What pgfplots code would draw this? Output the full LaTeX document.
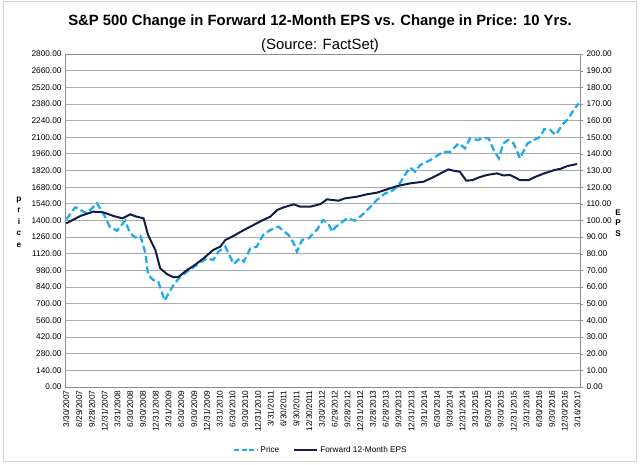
\documentclass[border=0pt]{standalone}
\usepackage{fontspec}
\setmainfont{Liberation Sans}
\usepackage{pgfplots}
\pgfplotsset{compat=1.18}
\definecolor{pricec}{RGB}{30,170,235}
\definecolor{epsc}{RGB}{18,28,72}
\definecolor{gridc}{RGB}{170,170,170}
\definecolor{axisc}{RGB}{140,140,140}
\definecolor{framec}{RGB}{210,210,210}
\newcommand{\tickfont}{\fontsize{8.3}{10}\selectfont}
\pgfplotsset{
  common/.style={
    at={(65bp,78bp)}, anchor=south west,
    scale only axis, width=515bp, height=333bp,
    xmin=-0.1, xmax=40.2,
    axis line style={axisc},
    yticklabel style={font=\tickfont, /pgf/number format/.cd, fixed, fixed zerofill,
      precision=2, 1000 sep={}, assume math mode=true},
  }
}
\begin{document}
\begin{tikzpicture}
\useasboundingbox (0bp,0bp) rectangle (640bp,465bp);
\draw[framec, line width=1bp] (3bp,3bp) rectangle (636bp,463bp);
\node[font=\fontsize{14.9}{18}\selectfont\bfseries] at (320bp,443bp)
  {S\&P 500 Change in Forward 12-Month EPS vs. Change in Price: 10 Yrs.};
\node[font=\fontsize{14.9}{18}\selectfont] at (320bp,419bp) {(Source: FactSet)};
\node[font=\fontsize{8.3}{11.5}\selectfont\bfseries, align=center] at (19bp,243bp) {p\\r\\i\\c\\e};
\node[font=\fontsize{8.3}{10.5}\selectfont\bfseries, align=center] at (618bp,242bp) {E\\P\\S};

% price, left axis
\begin{axis}[
    common,
    ymin=0, ymax=2800, ytick distance=140,
    ymajorgrids, grid style={gridc, line width=0.8bp},
    major tick length=0pt,
    xtick={0,...,40},
    xticklabels={3/30/2007,6/29/2007,9/28/2007,12/31/2007,3/31/2008,6/30/2008,9/30/2008,12/31/2008,
      3/31/2009,6/30/2009,9/30/2009,12/31/2009,3/31/2010,6/30/2010,9/30/2010,12/31/2010,
      3/31/2011,6/30/2011,9/30/2011,12/30/2011,3/30/2012,6/29/2012,9/28/2012,12/31/2012,
      3/28/2013,6/28/2013,9/30/2013,12/31/2013,3/31/2014,6/30/2014,9/30/2014,12/31/2014,
      3/31/2015,6/30/2015,9/30/2015,12/31/2015,3/31/2016,6/30/2016,9/30/2016,12/30/2016,3/16/2017},
    xticklabel style={rotate=90, anchor=east, font=\tickfont},
    ytick pos=left,
]
\addplot[pricec, line width=2.3bp, dash pattern=on 7bp off 3.5bp] coordinates {
(0.0,1410) (0.7,1511) (1.1,1488) (1.6,1460) (2.4,1545) (2.9,1460) (3.4,1348)
(3.97,1314) (4.6,1398) (5.0,1292) (5.4,1258) (5.8,1270) (6.2,1124) (6.4,942)
(6.8,900) (7.2,885) (7.7,726) (8.3,843) (8.8,914) (9.45,970) (10.2,1026)
(11.0,1082) (11.5,1068) (11.9,1138) (12.45,1180) (13.1,1034) (13.6,1082)
(13.9,1054) (14.4,1166) (14.9,1180) (15.4,1278) (15.97,1320) (16.6,1348)
(17.4,1278) (17.8,1208) (18.05,1138) (18.45,1236) (18.96,1250) (19.6,1320)
(20.1,1404) (20.5,1376) (20.8,1306) (21.05,1343) (21.97,1418) (22.6,1398)
(23.3,1460) (23.8,1516) (24.3,1572) (24.97,1629) (25.4,1642) (25.75,1671)
(26.1,1713) (26.5,1782) (26.9,1847) (27.3,1810) (27.7,1867) (28.5,1909)
(29.1,1951) (29.5,1978) (30.06,1978) (30.7,2049) (31.2,2007) (31.6,2091)
(32.15,2077) (32.7,2091) (33.05,2091) (33.45,1993) (33.85,1923) (34.2,2049)
(34.6,2077) (35.0,2049) (35.5,1923) (36.1,2049) (36.6,2077) (37.1,2104)
(37.4,2167) (37.8,2167) (38.3,2119) (38.8,2203) (39.3,2259) (39.7,2329)
(40.1,2385)
};
\end{axis}

% forward EPS, right axis
\begin{axis}[
    common,
    ymin=0, ymax=200, ytick distance=10,
    hide x axis, axis y line*=right,
    tick align=outside, major tick length=3bp,
    tick style={axisc},
    legend style={at={(0.497,-0.189)}, anchor=center, draw=none, fill=none,
      font=\tickfont, legend columns=2,
      /tikz/every even column/.append style={column sep=12bp}},
    legend image code/.code={\draw[#1] (0bp,0bp) -- (23bp,0bp);},
]
\addlegendimage{pricec, line width=2.3bp, dash pattern=on 5bp off 2.5bp}
\addlegendentry{Price}
\addplot[epsc, line width=2bp] coordinates {
(0.0,98.3) (1.1,102.7) (2.1,105.3) (2.9,104.9) (3.7,102.7) (4.4,101.3)
(5.0,103.7) (5.5,102.3) (6.05,101.3) (6.4,91.3) (6.97,82.3) (7.35,71.3)
(7.9,67.7) (8.4,65.9) (8.8,66.2) (9.45,70.3) (9.96,72.7) (10.75,77.3)
(11.5,82.3) (12.05,84.3) (12.45,88.3) (13.1,90.8) (13.6,93.0) (13.9,94.3)
(14.9,98.3) (15.4,100.3) (15.97,102.3) (16.5,106.3) (17.0,107.9) (17.8,109.7)
(18.3,108.3) (19.1,108.3) (19.9,109.9) (20.4,112.7) (21.3,111.9) (21.8,113.3)
(22.75,114.3) (23.5,115.7) (24.3,116.7) (25.1,118.7) (25.9,120.7) (26.9,122.3)
(27.97,123.3) (28.8,126.3) (29.4,128.7) (29.9,130.7) (30.3,129.9) (30.8,129.3)
(31.3,123.9) (31.8,124.3) (32.3,125.9) (32.9,127.3) (33.7,128.3) (34.2,127.1)
(34.75,127.3) (35.5,124.3) (36.2,124.3) (36.6,125.9) (37.4,128.3) (38.2,130.3)
(38.7,131.1) (39.2,132.7) (39.96,133.9)
};
\addlegendentry{Forward 12-Month EPS}
\end{axis}
\end{tikzpicture}
\end{document}
